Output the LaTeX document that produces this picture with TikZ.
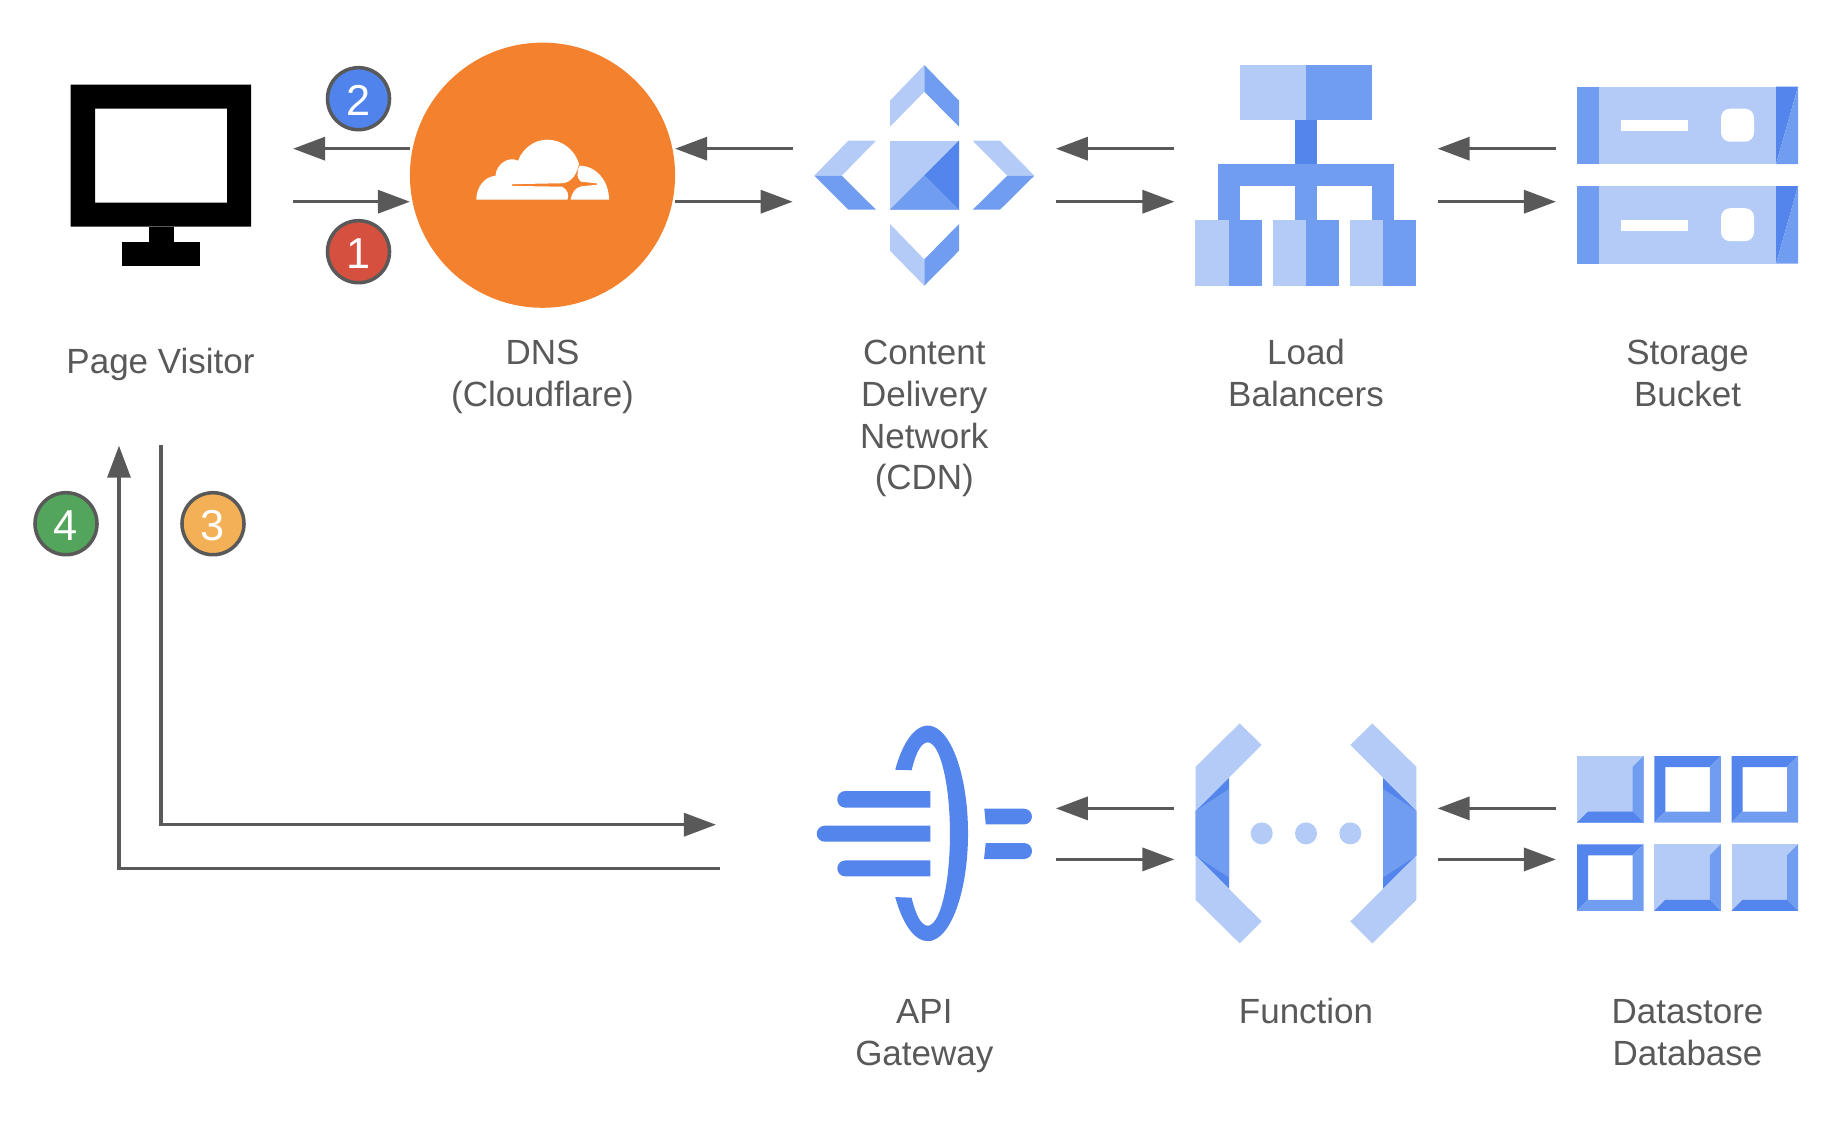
\documentclass[tikz,border=0pt]{standalone}
\usepackage{fontspec}
\setmainfont{Liberation Sans}
\usetikzlibrary{arrows.meta,positioning,calc}
\definecolor{gcplight}{HTML}{B3CBF6}
\definecolor{gcpmid}{HTML}{719DF1}
\definecolor{gcpdark}{HTML}{5385EC}
\definecolor{cforange}{HTML}{F4812D}
\definecolor{inkgray}{HTML}{595959}
\definecolor{stepred}{HTML}{D65040}
\definecolor{stepblue}{HTML}{5083EC}
\definecolor{stepgreen}{HTML}{52A55A}
\definecolor{stepamber}{HTML}{F4B056}

\begin{document}
\begin{tikzpicture}[
    x=0.01cm, y=-0.01cm,
    >={Triangle[length=3.2mm, width=2.3mm]},
    flow/.style={->, draw=inkgray, line width=0.95pt},
    iconbox/.style={minimum width=2.21cm, minimum height=2.21cm, inner sep=0pt, outer xsep=2.1mm},
    label/.style={anchor=north, align=center, inner sep=0pt, text=inkgray, font=\fontsize{9.95}{11.9}\selectfont},
    badge/.style={circle, draw=inkgray, line width=1pt, minimum size=6.2mm, inner sep=0pt, text=white, text height=3.4mm, font=\fontsize{12.3}{14}\selectfont},
    server/.pic={
        \fill[gcplight] (22,0) rectangle (199,77.5);
        \fill[gcpmid] (0,0) rectangle (22,77.5);
        \fill[gcpdark] (199,0) -- (221,0) -- (199,77.5) -- cycle;
        \fill[gcpmid] (221,0) -- (221,77.5) -- (199,77.5) -- cycle;
        \fill[white] (44,33.5) rectangle (110.5,44.5);
        \fill[white, rounded corners=0.9mm] (144,22) rectangle (177,55);
    },
    hollowcell/.pic={
        \fill[gcpdark] (0,0) -- (66.5,0) -- (55.5,11) -- (11,11) -- (11,55.5) -- (0,66.5) -- cycle;
        \fill[gcpmid] (66.5,0) -- (66.5,66.5) -- (0,66.5) -- (11,55.5) -- (55.5,55.5) -- (55.5,11) -- cycle;
    },
    filledcell/.pic={
        \fill[gcplight] (0,0) rectangle (66.5,66.5);
        \fill[gcpmid] (66.5,0) -- (66.5,66.5) -- (55.5,55.5) -- (55.5,11) -- cycle;
        \fill[gcpdark] (0,66.5) -- (66.5,66.5) -- (55.5,55.5) -- (11,55.5) -- cycle;
    },
]
    \useasboundingbox (0,-0.7) rectangle (1840,1123.3);

    % =====================================================================
    % Top row
    % =====================================================================

    % Page visitor
    \node[iconbox, minimum width=1.81cm, outer xsep=4.2mm] (visitor) at (160.5,174.5) {};
    \fill[black, even odd rule] (70.5,84) rectangle (251,226) (95,108) rectangle (227,202);
    \fill[black] (149,226) rectangle (174,241);
    \fill[black] (122,241) rectangle (200,265);
    \node[label] (visitorlabel) at (160.5,346.5) {Page Visitor};

    % DNS
    \node[circle, fill=cforange, minimum size=2.65cm, inner sep=0pt, outer sep=0pt] (dns) at (542.5,174.5) {};
    \fill[white] (476.3,199) .. controls (476.3,187) and (484,176) .. (495.5,175)
        .. controls (496,164) and (508,155) .. (518,160)
        .. controls (523,147) and (535,139) .. (547,139)
        .. controls (563,139) and (575,150) .. (579,163)
        .. controls (577,172) and (573,181) .. (563,182.5)
        -- (512,183.5) -- (512,185.2) -- (562,186)
        .. controls (568,189) and (569,194) .. (567.5,199) -- cycle;
    \fill[white] (570.5,199) .. controls (572,192) and (575,187) .. (581,185.7)
        -- (597,184) -- (597,182.7) -- (581,181)
        .. controls (577,178) and (576,172) .. (579.5,165)
        .. controls (596,165) and (609,180) .. (609,199) -- cycle;
    \node[label] (dnslabel) at (542.5,338.5) {DNS\\(Cloudflare)};

    % Content delivery network
    \node[iconbox] (cdn) at (924.3,174.5) {};
    \fill[gcplight] (890,140) rectangle (959,209);
    \fill[gcpmid] (890,209) -- (924.5,174.5) -- (959,209) -- cycle;
    \fill[gcpdark] (959,140) -- (959,209) -- (924.5,174.5) -- cycle;
    \fill[gcplight] (924.3,64.3) -- (890,100) -- (890,126) -- (924.3,91) -- cycle;
    \fill[gcpmid] (924.3,64.3) -- (959,100) -- (959,126) -- (924.3,91) -- cycle;
    \fill[gcplight] (924.3,285) -- (890,250) -- (890,223.3) -- (924.3,258.7) -- cycle;
    \fill[gcpmid] (924.3,285) -- (959,250) -- (959,223.3) -- (924.3,258.7) -- cycle;
    \fill[gcplight] (814.3,175) -- (848.3,140) -- (876,140) -- (841.7,175) -- cycle;
    \fill[gcpmid] (814.3,175) -- (848.3,209) -- (876,209) -- (841.7,175) -- cycle;
    \fill[gcplight] (1034.3,175) -- (1000,140) -- (972.7,140) -- (1007.3,175) -- cycle;
    \fill[gcpmid] (1034.3,175) -- (1000,209) -- (972.7,209) -- (1007.3,175) -- cycle;
    \node[label] (cdnlabel) at (924.3,338.5) {Content\\Delivery\\Network\\(CDN)};

    % Load balancers
    \node[iconbox] (balancers) at (1306,174.5) {};
    \fill[gcplight] (1240,64) rectangle (1306,119.3);
    \fill[gcpmid] (1306,64) rectangle (1372,119.3);
    \fill[gcpdark] (1295,119.3) rectangle (1317,163.7);
    \fill[gcpmid] (1217.7,163.7) rectangle (1394.3,185.7);
    \fill[gcpmid] (1217.7,185.7) rectangle (1239.7,219);
    \fill[gcpmid] (1295,185.7) rectangle (1317,219);
    \fill[gcpmid] (1372,185.7) rectangle (1394.3,219);
    \fill[gcplight] (1195.3,219) rectangle (1229,285);
    \fill[gcpmid] (1229,219) rectangle (1261.7,285);
    \fill[gcplight] (1273,219) rectangle (1306,285);
    \fill[gcpmid] (1306,219) rectangle (1339,285);
    \fill[gcplight] (1350,219) rectangle (1383,285);
    \fill[gcpmid] (1383,219) rectangle (1416.3,285);
    \node[label] (balancerslabel) at (1306,337.5) {Load\\Balancers};

    % Storage bucket
    \node[iconbox] (bucket) at (1687.5,174.5) {};
    \pic at (1577,86) {server};
    \pic at (1577,185.5) {server};
    \node[label] (bucketlabel) at (1687.5,338.5) {Storage\\Bucket};

    % Arrows along the top row
    \draw[flow] ([yshift=-2.65mm]visitor.east) -- ([yshift=-2.65mm]dns.west);
    \draw[flow] ([yshift=2.65mm]dns.west) -- ([yshift=2.65mm]visitor.east);
    \draw[flow] ([yshift=-2.65mm]dns.east) -- ([yshift=-2.65mm]cdn.west);
    \draw[flow] ([yshift=2.65mm]cdn.west) -- ([yshift=2.65mm]dns.east);
    \draw[flow] ([yshift=-2.65mm]cdn.east) -- ([yshift=-2.65mm]balancers.west);
    \draw[flow] ([yshift=2.65mm]balancers.west) -- ([yshift=2.65mm]cdn.east);
    \draw[flow] ([yshift=-2.65mm]balancers.east) -- ([yshift=-2.65mm]bucket.west);
    \draw[flow] ([yshift=2.65mm]bucket.west) -- ([yshift=2.65mm]balancers.east);

    % =====================================================================
    % Bottom row
    % =====================================================================

    % API gateway
    \node[iconbox] (gateway) at (924.3,832.7) {};
    \fill[gcpdark] (895.2,769) arc[start angle=-143.8, end angle=143.8, x radius=40.3, y radius=107.8]
        -- (911.6,897) arc[start angle=136, end angle=-136, x radius=22.3, y radius=91.7] -- cycle;
    \fill[gcpdark] (930.3,790.3) [rounded corners=0.08cm] -- (837.3,790.3) -- (837.3,807) [sharp corners] -- (930.3,807) -- cycle;
    \fill[gcpdark] (930.3,825) [rounded corners=0.08cm] -- (816.7,825) -- (816.7,841) [sharp corners] -- (930.3,841) -- cycle;
    \fill[gcpdark] (930.3,859.7) [rounded corners=0.08cm] -- (837.3,859.7) -- (837.3,875.7) [sharp corners] -- (930.3,875.7) -- cycle;
    \fill[gcpdark] (984.3,808) [rounded corners=0.08cm] -- (1032,808) -- (1032,823.7) [sharp corners] -- (985.7,823.7) -- cycle;
    \fill[gcpdark] (985.7,842.3) [rounded corners=0.08cm] -- (1032,842.3) -- (1032,858.3) [sharp corners] -- (984,858.3) -- cycle;
    \node[label] (gatewaylabel) at (924.3,998) {API\\Gateway};

    % Function
    \node[iconbox] (function) at (1306,832.7) {};
    \fill[gcpdark] (1195.7,810) -- (1229,777) -- (1229,888.3) -- (1195.7,855) -- cycle;
    \fill[gcpmid] (1195.7,810) -- (1229,788.3) -- (1229,876.7) -- (1195.7,855) -- cycle;
    \fill[gcplight] (1239.7,722.7) -- (1261.7,744.3) -- (1195.7,810) -- (1195.7,766) -- cycle;
    \fill[gcplight] (1239.7,942.7) -- (1261.7,920.7) -- (1195.7,855) -- (1195.7,899.3) -- cycle;
    \fill[gcpdark] (1416.3,810) -- (1383,777) -- (1383,888.3) -- (1416.3,855) -- cycle;
    \fill[gcpmid] (1416.3,810) -- (1383,788.3) -- (1383,876.7) -- (1416.3,855) -- cycle;
    \fill[gcplight] (1372.3,722.7) -- (1350.3,744.3) -- (1416.3,810) -- (1416.3,766) -- cycle;
    \fill[gcplight] (1372.3,942.7) -- (1350.3,920.7) -- (1416.3,855) -- (1416.3,899.3) -- cycle;
    \fill[gcplight] (1261.7,832.7) circle[radius=11];
    \fill[gcplight] (1306,832.7) circle[radius=11];
    \fill[gcplight] (1350.3,832.7) circle[radius=11];
    \node[label] (functionlabel) at (1306,996.5) {Function};

    % Datastore database
    \node[iconbox] (datastore) at (1687.5,832.7) {};
    \pic at (1577,755.3) {filledcell};
    \pic at (1654.3,755.3) {hollowcell};
    \pic at (1731.5,755.3) {hollowcell};
    \pic at (1577,843.7) {hollowcell};
    \pic at (1654.3,843.7) {filledcell};
    \pic at (1731.5,843.7) {filledcell};
    \node[label] (datastorelabel) at (1687.5,998) {Datastore\\Database};

    % Arrows along the bottom row
    \draw[flow] ([yshift=-2.6mm]gateway.east) -- ([yshift=-2.6mm]function.west);
    \draw[flow] ([yshift=2.5mm]function.west) -- ([yshift=2.5mm]gateway.east);
    \draw[flow] ([yshift=-2.6mm]function.east) -- ([yshift=-2.6mm]datastore.west);
    \draw[flow] ([yshift=2.5mm]datastore.west) -- ([yshift=2.5mm]function.east);

    % Long way back to the visitor
    \coordinate (visitorout) at (161,444);
    \coordinate (visitorin) at (119,445);
    \coordinate (gatewayin) at (716,824);
    \coordinate (gatewayout) at (720,868);
    \draw[flow] (visitorout) |- (gatewayin);
    \draw[flow] (gatewayout) -| (visitorin);

    % Step badges
    \node[badge, fill=stepblue] (badge2) at (358.5,98) {2};
    \node[badge, fill=stepred] (badge1) at (358.5,251) {1};
    \node[badge, fill=stepamber] (badge3) at (213,523) {3};
    \node[badge, fill=stepgreen] (badge4) at (66,523) {4};

\end{tikzpicture}
\end{document}
